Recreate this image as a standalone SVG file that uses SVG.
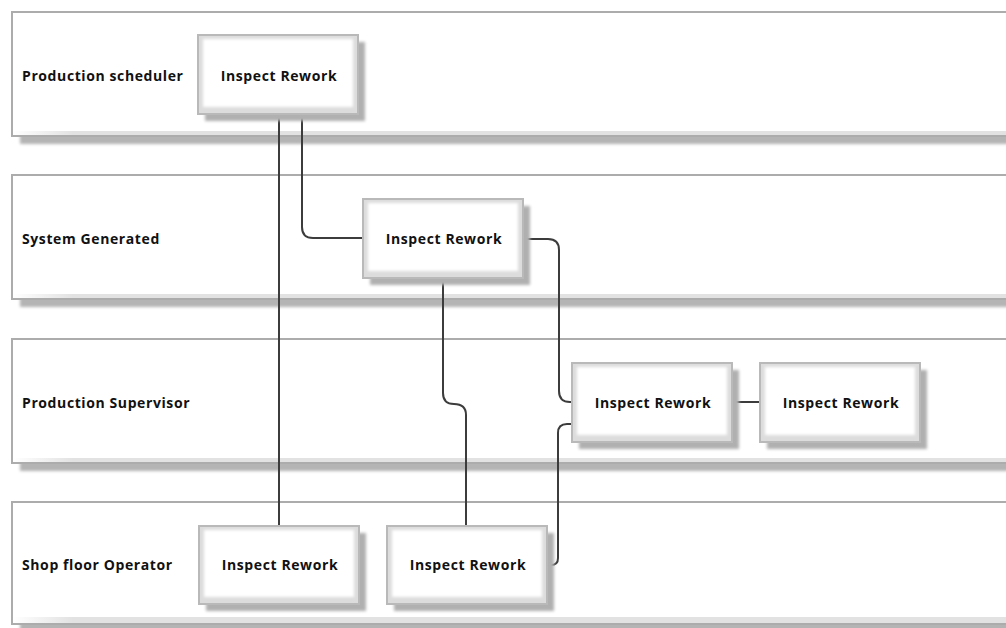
<svg xmlns="http://www.w3.org/2000/svg" width="1006" height="628" viewBox="0 0 1006 628">
  <defs>
    <filter id="soft" x="-10%" y="-20%" width="130%" height="150%">
      <feGaussianBlur stdDeviation="1.6"/>
    </filter>
    <filter id="glow" x="-5%" y="-10%" width="110%" height="120%">
      <feGaussianBlur stdDeviation="1.4"/>
    </filter>
    <linearGradient id="laneBottom" x1="0" y1="0" x2="1" y2="0">
      <stop offset="0" stop-color="#ffffff"/>
      <stop offset="0.06" stop-color="#e2e2e2"/>
      <stop offset="1" stop-color="#e2e2e2"/>
    </linearGradient>
  </defs>
  <style>
    .lane-shadow { fill: #b4b4b4; filter: url(#soft); }
    .lane-frame { fill: #ffffff; stroke: #acacac; stroke-width: 2; }
    .lane-band { fill: url(#laneBottom); }
    .node-shadow { fill: #b0b0b0; filter: url(#soft); }
    .node-frame { fill: #dcdcdc; stroke: #b9b9b9; stroke-width: 2; }
    .node-face { fill: #ffffff; filter: url(#glow); }
    .label { font-family: "Open Sans", "Liberation Sans", sans-serif; font-weight: bold; font-size: 14px; letter-spacing: 0.6px; fill: #111111; }
    .conn { fill: none; stroke: #3c3c3c; stroke-width: 2; }
  </style>

  <rect width="1006" height="628" fill="#ffffff"/>

  <!-- swimlanes -->
  <g id="lane-production-scheduler">
    <rect class="lane-shadow" x="20" y="20" width="1000" height="124"/>
    <rect class="lane-frame" x="12" y="12" width="1010" height="124"/>
    <rect class="lane-band" x="13" y="131" width="1000" height="4"/>
    <text class="label" x="22" y="81">Production scheduler</text>
  </g>
  <g id="lane-system-generated">
    <rect class="lane-shadow" x="20" y="183" width="1000" height="124"/>
    <rect class="lane-frame" x="12" y="175" width="1010" height="124"/>
    <rect class="lane-band" x="13" y="294" width="1000" height="4"/>
    <text class="label" x="22" y="244">System Generated</text>
  </g>
  <g id="lane-production-supervisor">
    <rect class="lane-shadow" x="20" y="347" width="1000" height="124"/>
    <rect class="lane-frame" x="12" y="339" width="1010" height="124"/>
    <rect class="lane-band" x="13" y="458" width="1000" height="4"/>
    <text class="label" x="22" y="408">Production Supervisor</text>
  </g>
  <g id="lane-shop-floor-operator">
    <rect class="lane-shadow" x="20" y="510" width="1000" height="124"/>
    <rect class="lane-frame" x="12" y="502" width="1010" height="122"/>
    <rect class="lane-band" x="13" y="617" width="1000" height="6"/>
    <text class="label" x="22" y="570">Shop floor Operator</text>
  </g>

  <!-- connectors -->
  <g id="connectors">
    <path class="conn" d="M279,115 V526"/>
    <path class="conn" d="M302,115 V227 Q302,238 313,238 H363"/>
    <path class="conn" d="M523,239 H548 Q559,239 559,250 V391 Q559,402 570,402 H572"/>
    <path class="conn" d="M547,565 H551 Q558,565 558,558 V433 Q558,424 567,424 H572"/>
    <path class="conn" d="M443,278 V393 Q443,404 454,404 Q466,404 466,415 V526"/>
    <path class="conn" d="M732,402 H760"/>
  </g>

  <!-- activities -->
  <g id="node-scheduler-inspect">
    <rect class="node-shadow" x="205" y="42" width="160" height="79"/>
    <rect class="node-frame" x="198" y="35" width="160" height="79"/>
    <rect class="node-face" x="203" y="39" width="150" height="68"/>
    <text class="label" x="279" y="81" text-anchor="middle">Inspect Rework</text>
  </g>
  <g id="node-system-inspect">
    <rect class="node-shadow" x="370" y="206" width="160" height="79"/>
    <rect class="node-frame" x="363" y="199" width="160" height="79"/>
    <rect class="node-face" x="368" y="203" width="150" height="68"/>
    <text class="label" x="444" y="244" text-anchor="middle">Inspect Rework</text>
  </g>
  <g id="node-supervisor-inspect-a">
    <rect class="node-shadow" x="579" y="370" width="160" height="79"/>
    <rect class="node-frame" x="572" y="363" width="160" height="79"/>
    <rect class="node-face" x="577" y="367" width="150" height="68"/>
    <text class="label" x="653" y="408" text-anchor="middle">Inspect Rework</text>
  </g>
  <g id="node-supervisor-inspect-b">
    <rect class="node-shadow" x="767" y="370" width="160" height="79"/>
    <rect class="node-frame" x="760" y="363" width="160" height="79"/>
    <rect class="node-face" x="765" y="367" width="150" height="68"/>
    <text class="label" x="841" y="408" text-anchor="middle">Inspect Rework</text>
  </g>
  <g id="node-operator-inspect-a">
    <rect class="node-shadow" x="206" y="533" width="160" height="78"/>
    <rect class="node-frame" x="199" y="526" width="160" height="78"/>
    <rect class="node-face" x="204" y="530" width="150" height="67"/>
    <text class="label" x="280" y="570" text-anchor="middle">Inspect Rework</text>
  </g>
  <g id="node-operator-inspect-b">
    <rect class="node-shadow" x="394" y="533" width="160" height="78"/>
    <rect class="node-frame" x="387" y="526" width="160" height="78"/>
    <rect class="node-face" x="392" y="530" width="150" height="67"/>
    <text class="label" x="468" y="570" text-anchor="middle">Inspect Rework</text>
  </g>
</svg>
